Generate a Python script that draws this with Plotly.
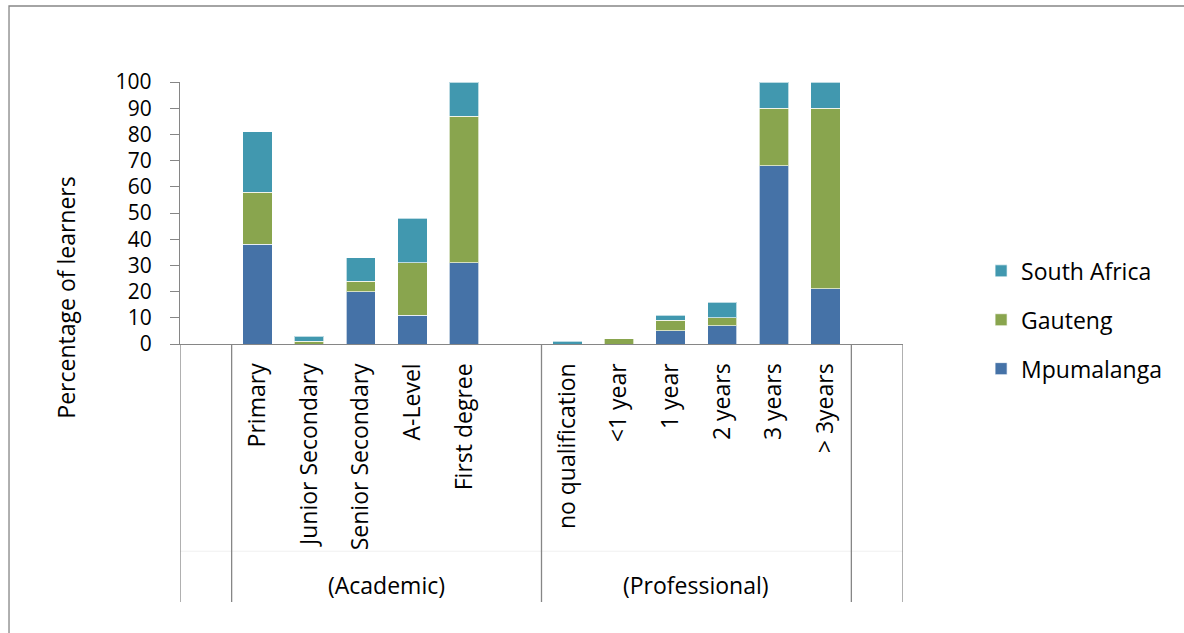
import plotly.graph_objects as go

# Category slots along the x axis (blank slots pad the two groups)
categories = [" ", "Primary", "Junior Secondary", "Senior Secondary", "A-Level",
              "First degree", "  ", "no qualification", "<1 year", "1 year",
              "2 years", "3 years", "> 3years", "   "]
bar_categories = ["Primary", "Junior Secondary", "Senior Secondary", "A-Level",
                  "First degree", "no qualification", "<1 year", "1 year",
                  "2 years", "3 years", "> 3years"]

mpumalanga = [38, 0, 20, 11, 31, 0, 0, 5, 7, 68, 21]
gauteng = [20, 1, 4, 20, 56, 0, 2, 4, 3, 22, 69]
south_africa = [23, 2, 9, 17, 13, 1, 0, 2, 6, 10, 10]

y_ticks = [0, 10, 20, 30, 40, 50, 60, 70, 80, 90, 100]

groups = ["(Academic)", "(Professional)"]
group_centers = [3.5, 9.5]
dividers = [-0.5, 0.5, 6.5, 12.5, 13.5]

FONT = "Open Sans"
SIZE = 23
AXIS_GREY = "#868686"
TEXT = "#000000"

fig = go.Figure()
series = [
    ("Mpumalanga", mpumalanga, "#4572A7", 3),
    ("Gauteng", gauteng, "#89A54E", 2),
    ("South Africa", south_africa, "#4198AF", 1),
]
for name, vals, color, rank in series:
    fig.add_trace(go.Bar(
        x=bar_categories, y=vals, name=name,
        marker=dict(color=color, line=dict(color="rgba(255,255,255,0.65)", width=1)),
        legendgroup=name, legendrank=rank,
    ))

shapes = []
# outer chart border (only left and top edges fall inside the frame)
shapes.append(dict(type="rect", xref="paper", yref="paper",
                   x0=-0.2365, x1=1.6, y0=-1.6, y1=1.290,
                   line=dict(color=AXIS_GREY, width=1.3), layer="below"))
# faint row separator of the two-level category axis
shapes.append(dict(type="line", xref="x", yref="paper",
                   x0=-0.5, x1=13.5, y0=-0.791, y1=-0.791,
                   line=dict(color="#f0f0f0", width=1)))
# group dividers below the axis
for d in dividers:
    shapes.append(dict(type="line", xref="x", yref="paper",
                       x0=d, x1=d, y0=0, y1=-0.985,
                       line=dict(color=AXIS_GREY, width=1.3)))

annotations = []
for g, c in zip(groups, group_centers):
    annotations.append(dict(text=g, x=c, y=-0.92, xref="x", yref="paper",
                            showarrow=False, font=dict(family=FONT, size=SIZE, color=TEXT),
                            xanchor="center", yanchor="middle"))
annotations.append(dict(text="Percentage of learners", x=-0.158, y=0.176,
                        xref="paper", yref="paper", textangle=-90, showarrow=False,
                        font=dict(family=FONT, size=SIZE, color=TEXT),
                        xanchor="center", yanchor="middle"))

fig.update_layout(
    width=1184, height=633,
    margin=dict(l=180, r=281, t=82, b=289),
    paper_bgcolor="white", plot_bgcolor="white",
    barmode="stack", bargap=0.43,
    font=dict(family=FONT, size=SIZE, color=TEXT),
    shapes=shapes, annotations=annotations,
    legend=dict(x=1.108, y=0.092, xanchor="left", yanchor="middle",
                traceorder="grouped", tracegroupgap=16,
                font=dict(family=FONT, size=SIZE, color=TEXT),
                bgcolor="rgba(0,0,0,0)"),
)
fig.update_xaxes(
    type="category", categoryorder="array", categoryarray=categories,
    range=[-0.5, 13.5], tickangle=-90, showline=True, linecolor=AXIS_GREY,
    linewidth=1.3, ticks="", showgrid=False, zeroline=False,
    tickfont=dict(family=FONT, size=SIZE, color=TEXT), ticklabelstandoff=9,
)
fig.update_yaxes(
    range=[0, 100], tickvals=y_ticks, showline=True, linecolor=AXIS_GREY,
    linewidth=1.3, ticks="outside", ticklen=9, tickcolor=AXIS_GREY, tickwidth=1.3,
    showgrid=False, zeroline=False,
    tickfont=dict(family=FONT, size=21, color=TEXT), ticklabelstandoff=14,
)

fig.write_html("out.html")
